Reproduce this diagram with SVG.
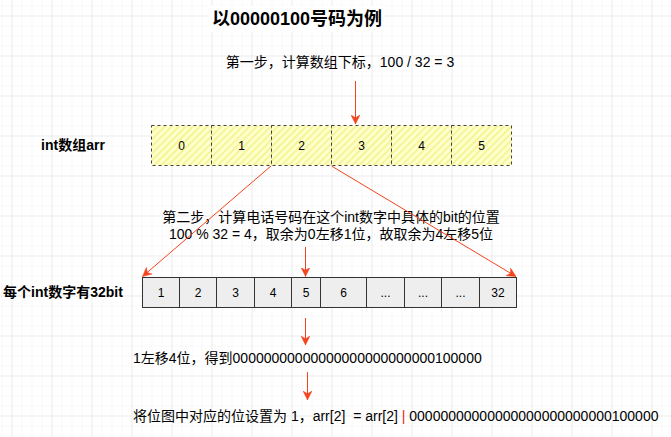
<svg xmlns="http://www.w3.org/2000/svg" width="671" height="437" viewBox="0 0 671 437">
<defs>
<pattern id="minor" width="10" height="10" patternUnits="userSpaceOnUse" patternTransform="translate(11.5,15.5)">
<path d="M0,0 H10 M0,0 V10" fill="none" stroke="#f2f2f2" stroke-width="1"/>
</pattern>
<pattern id="major" width="40" height="40" patternUnits="userSpaceOnUse" patternTransform="translate(11.5,15.5)">
<path d="M0,0 H40 M0,0 V40" fill="none" stroke="#e0e0e0" stroke-width="1"/>
</pattern>
<pattern id="hatch" width="5" height="5" patternUnits="userSpaceOnUse" patternTransform="rotate(45)">
<rect width="5" height="5" fill="#ffffcc"/>
<rect width="1.6" height="5" fill="#f3f38c"/>
</pattern>
<marker id="ah" viewBox="0 0 10 10" refX="10" refY="5" markerWidth="9" markerHeight="9" markerUnits="userSpaceOnUse" orient="auto">
<path d="M0,0 L10,5 L0,10 L3,5 Z" fill="#f4441f" stroke="#f4441f" stroke-width="0.5"/>
</marker>
</defs>
<style>
text{font-family:"Liberation Sans","Noto Sans CJK SC",sans-serif;fill:#000;white-space:pre;}
.t12{font-size:12px;text-anchor:middle;}
.t14{font-size:14px;}
.b14{font-size:14px;font-weight:bold;text-anchor:middle;}
.arr{fill:url(#hatch);stroke:#444;stroke-width:1;stroke-dasharray:3 3;}
.bit{fill:#eeeeee;stroke:#333;stroke-width:1;}
.con{fill:none;stroke:#f4441f;stroke-width:1;marker-end:url(#ah);}
</style>
<rect width="671" height="437" fill="#ffffff"/>
<rect width="671" height="437" fill="url(#minor)"/>
<rect width="671" height="437" fill="url(#major)"/>

<g id="title">
<rect x="209" y="6" width="176" height="26" fill="#ffffff"/>
<text x="297" y="24.5" style="font-size:18px;font-weight:bold;text-anchor:middle;">以00000100号码为例</text>
</g>

<g id="step1">
<text x="340" y="67" style="font-size:14px;text-anchor:middle;">第一步，计算数组下标，100 / 32 = 3</text>
</g>

<g id="label-arr">
<text x="73" y="150" class="b14">int数组arr</text>
</g>

<g id="array">
<rect class="arr" x="151.5" y="125.5" width="60" height="40"/>
<rect class="arr" x="211.5" y="125.5" width="60" height="40"/>
<rect class="arr" x="271.5" y="125.5" width="60" height="40"/>
<rect class="arr" x="331.5" y="125.5" width="60" height="40"/>
<rect class="arr" x="391.5" y="125.5" width="60" height="40"/>
<rect class="arr" x="451.5" y="125.5" width="60" height="40"/>
<text class="t12" x="181.5" y="149.5">0</text>
<text class="t12" x="241.5" y="149.5">1</text>
<text class="t12" x="301.5" y="149.5">2</text>
<text class="t12" x="361.5" y="149.5">3</text>
<text class="t12" x="421.5" y="149.5">4</text>
<text class="t12" x="481.5" y="149.5">5</text>
</g>

<g id="step2">
<text x="331" y="221.5" style="font-size:14px;text-anchor:middle;">第二步，计算电话号码在这个int数字中具体的bit的位置</text>
<text x="331" y="239" style="font-size:14px;text-anchor:middle;">100 % 32 = 4，取余为0左移1位，故取余为4左移5位</text>
</g>

<g id="label-bits">
<text x="63" y="297" class="b14">每个int数字有32bit</text>
</g>

<g id="bits">
<rect class="bit" x="142.5" y="277.5" width="37" height="30"/>
<rect class="bit" x="179.5" y="277.5" width="37" height="30"/>
<rect class="bit" x="216.5" y="277.5" width="38" height="30"/>
<rect class="bit" x="254.5" y="277.5" width="37" height="30"/>
<rect class="bit" x="291.5" y="277.5" width="29" height="30"/>
<rect class="bit" x="320.5" y="277.5" width="46" height="30"/>
<rect class="bit" x="366.5" y="277.5" width="38" height="30"/>
<rect class="bit" x="404.5" y="277.5" width="37" height="30"/>
<rect class="bit" x="441.5" y="277.5" width="38" height="30"/>
<rect class="bit" x="479.5" y="277.5" width="37" height="30"/>
<text class="t12" x="161" y="296.5">1</text>
<text class="t12" x="198" y="296.5">2</text>
<text class="t12" x="235.5" y="296.5">3</text>
<text class="t12" x="273" y="296.5">4</text>
<text class="t12" x="306" y="296.5">5</text>
<text class="t12" x="343.5" y="296.5">6</text>
<text class="t12" x="385.5" y="296.5">...</text>
<text class="t12" x="423" y="296.5">...</text>
<text class="t12" x="460.5" y="296.5">...</text>
<text class="t12" x="498" y="296.5">32</text>
</g>

<g id="step3">
<text x="133" y="363" class="t14">1左移4位，得到00000000000000000000000000100000</text>
</g>

<g id="step4">
<text x="133" y="421" class="t14">将位图中对应的位设置为 1，arr[2]  = arr[2] <tspan style="fill:#e51c1c;">|</tspan> 00000000000000000000000000100000</text>
</g>

<g id="connectors">
<line class="con" x1="355.5" y1="81" x2="355.5" y2="124"/>
<line class="con" x1="271" y1="166" x2="142.5" y2="276.5"/>
<line class="con" x1="331.5" y1="166" x2="516" y2="276.5"/>
<line class="con" x1="305.5" y1="247" x2="305.5" y2="276.5"/>
<line class="con" x1="305.5" y1="318" x2="305.5" y2="345"/>
<line class="con" x1="307.5" y1="372" x2="307.5" y2="400"/>
</g>
</svg>
